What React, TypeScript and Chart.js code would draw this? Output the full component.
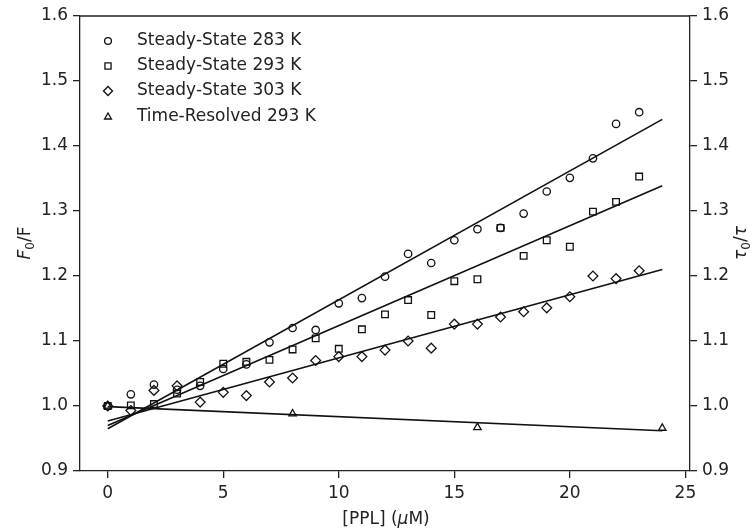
import React, { useEffect, useRef } from "react";
import { Chart, registerables } from "chart.js";

Chart.register(...registerables);

// ---- data ----
const ppl = [0, 1, 2, 3, 4, 5, 6, 7, 8, 9, 10, 11, 12, 13, 14, 15, 16, 17, 18, 19, 20, 21, 22, 23];
const ss283 = [1.0, 1.018, 1.033, 1.025, 1.031, 1.057, 1.064, 1.098, 1.12, 1.117, 1.158, 1.166, 1.199, 1.234, 1.22, 1.255, 1.272, 1.274, 1.296, 1.33, 1.351, 1.381, 1.434, 1.452];
const ss293 = [1.0, 1.001, 1.003, 1.019, 1.037, 1.065, 1.068, 1.071, 1.087, 1.104, 1.088, 1.118, 1.141, 1.163, 1.14, 1.192, 1.195, 1.274, 1.231, 1.255, 1.245, 1.299, 1.314, 1.353];
const ss303 = [1.0, 0.993, 1.024, 1.031, 1.006, 1.021, 1.016, 1.037, 1.043, 1.07, 1.076, 1.076, 1.086, 1.1, 1.089, 1.126, 1.126, 1.137, 1.145, 1.151, 1.168, 1.2, 1.196, 1.208];
const trPPL = [0, 8, 16, 24];
const tr293 = [1.0, 0.988, 0.967, 0.966];

// linear-fit lines (end points)
const fitX = [0, 24];
const fit283 = [0.965, 1.441];
const fit293 = [0.97, 1.339];
const fit303 = [0.977, 1.21];
const fitTR = [0.999, 0.962];

const xTicks = [0, 5, 10, 15, 20, 25];
const yTicks = [0.9, 1.0, 1.1, 1.2, 1.3, 1.4, 1.5, 1.6];
const legendLabels = ["Steady-State 283 K", "Steady-State 293 K", "Steady-State 303 K", "Time-Resolved 293 K"];
const markerStyles = ["circle", "rect", "rectRot", "triangle"];
const markerRadii = [3.7, 4.7, 4.9, 4.3];

const FONT = '"DejaVu Sans", sans-serif';
const INK = "#222";

function pts(xs: number[], ys: number[]) {
  return xs.map((x, i) => ({ x, y: ys[i] }));
}

function drawMarker(ctx: CanvasRenderingContext2D, style: string, x: number, y: number, r: number) {
  ctx.beginPath();
  if (style === "circle") {
    ctx.arc(x, y, r, 0, Math.PI * 2);
  } else if (style === "rect") {
    const s = r * Math.SQRT1_2;
    ctx.rect(x - s, y - s, 2 * s, 2 * s);
  } else if (style === "rectRot") {
    ctx.moveTo(x - r, y);
    ctx.lineTo(x, y - r);
    ctx.lineTo(x + r, y);
    ctx.lineTo(x, y + r);
    ctx.closePath();
  } else {
    ctx.moveTo(x, y - r);
    ctx.lineTo(x + 0.866 * r, y + 0.5 * r);
    ctx.lineTo(x - 0.866 * r, y + 0.5 * r);
    ctx.closePath();
  }
  ctx.stroke();
}

type Piece = { t: string; italic?: boolean; sub?: boolean };

function drawRich(ctx: CanvasRenderingContext2D, pieces: Piece[], size: number) {
  const fontOf = (p: Piece) => `${p.italic ? "italic " : ""}${p.sub ? Math.round(size * 0.7) : size}px ${FONT}`;
  let total = 0;
  const widths = pieces.map((p) => {
    ctx.font = fontOf(p);
    const w = ctx.measureText(p.t).width;
    total += w;
    return w;
  });
  let x = -total / 2;
  ctx.textAlign = "left";
  ctx.textBaseline = "middle";
  pieces.forEach((p, i) => {
    ctx.font = fontOf(p);
    ctx.fillText(p.t, x, p.sub ? size * 0.28 : 0);
    x += widths[i];
  });
}

const decor = {
  id: "decor",
  afterDraw(chart: any) {
    const { ctx, chartArea: a } = chart;
    ctx.save();
    // top spine
    ctx.strokeStyle = INK;
    ctx.lineWidth = 1.3;
    ctx.beginPath();
    ctx.moveTo(a.left, a.top);
    ctx.lineTo(a.right, a.top);
    ctx.stroke();

    // legend
    const rows = [41, 66, 91, 117];
    legendLabels.forEach((lab, i) => {
      ctx.strokeStyle = "#111";
      ctx.lineWidth = 1.3;
      drawMarker(ctx, markerStyles[i], 108, rows[i], markerRadii[i] * 0.92);
      ctx.fillStyle = INK;
      ctx.font = `17px ${FONT}`;
      ctx.textAlign = "left";
      ctx.textBaseline = "middle";
      ctx.fillText(lab, 137, rows[i]);
    });

    ctx.fillStyle = INK;
    // left axis title
    ctx.save();
    ctx.translate(26, 243);
    ctx.rotate(-Math.PI / 2);
    drawRich(ctx, [{ t: "F", italic: true }, { t: "0", sub: true }, { t: "/F" }], 17);
    ctx.restore();

    // right axis title
    ctx.save();
    ctx.translate(742, 243);
    ctx.rotate(-Math.PI / 2);
    drawRich(ctx, [{ t: "τ", italic: true }, { t: "0", sub: true }, { t: "/" }, { t: "τ", italic: true }], 17);
    ctx.restore();

    // x axis title
    ctx.save();
    ctx.translate(386, 520);
    drawRich(ctx, [{ t: "[PPL] (" }, { t: "μ", italic: true }, { t: "M)" }], 17);
    ctx.restore();

    ctx.restore();
  },
};

export default function App() {
  const ref = useRef<HTMLCanvasElement | null>(null);

  useEffect(() => {
    if (!ref.current) return;
    const pointDs = (data: any[], i: number) => ({
      data,
      showLine: false,
      pointStyle: markerStyles[i],
      pointRadius: markerRadii[i],
      pointBorderWidth: 1.3,
      pointBorderColor: "#111",
      pointBackgroundColor: "rgba(0,0,0,0)",
      order: 1,
    });
    const lineDs = (data: any[]) => ({
      data,
      showLine: true,
      borderColor: "#111",
      borderWidth: 1.6,
      pointRadius: 0,
      fill: false,
      order: 0,
    });

    const gridCfg = {
      display: true,
      drawOnChartArea: false,
      drawTicks: true,
      tickLength: 7,
      color: INK,
      lineWidth: 1.3,
    };
    const tickFont = { family: FONT, size: 17 };

    const chart = new Chart(ref.current, {
      type: "scatter",
      data: {
        datasets: [
          pointDs(pts(ppl, ss283), 0),
          pointDs(pts(ppl, ss293), 1),
          pointDs(pts(ppl, ss303), 2),
          pointDs(pts(trPPL, tr293), 3),
          lineDs(pts(fitX, fit283)),
          lineDs(pts(fitX, fit293)),
          lineDs(pts(fitX, fit303)),
          lineDs(pts(fitX, fitTR)),
        ] as any,
      },
      options: {
        animation: false,
        responsive: false,
        devicePixelRatio: 1,
        layout: { padding: { top: 16, left: 0, right: 0, bottom: 0 } },
        plugins: { legend: { display: false }, tooltip: { enabled: false } },
        scales: {
          x: {
            type: "linear",
            position: "bottom",
            min: -1.2,
            max: 25.2,
            grid: gridCfg,
            border: { color: INK, width: 1.3 },
            ticks: { color: INK, font: tickFont, padding: 5, maxRotation: 0, callback: (v: any) => String(v) },
            afterBuildTicks: (s: any) => {
              s.ticks = xTicks.map((value) => ({ value }));
            },
            afterFit: (s: any) => {
              s.height = 58;
            },
          },
          y: {
            type: "linear",
            position: "left",
            min: 0.9,
            max: 1.6,
            grid: gridCfg,
            border: { color: INK, width: 1.3 },
            ticks: { color: INK, font: tickFont, padding: 5, callback: (v: any) => Number(v).toFixed(1) },
            afterBuildTicks: (s: any) => {
              s.ticks = yTicks.map((value) => ({ value }));
            },
            afterFit: (s: any) => {
              s.width = 80;
            },
          },
          y2: {
            type: "linear",
            position: "right",
            min: 0.9,
            max: 1.6,
            grid: gridCfg,
            border: { color: INK, width: 1.3 },
            ticks: { color: INK, font: tickFont, padding: 5, callback: (v: any) => Number(v).toFixed(1) },
            afterBuildTicks: (s: any) => {
              s.ticks = yTicks.map((value) => ({ value }));
            },
            afterFit: (s: any) => {
              s.width = 62;
            },
          },
        },
      } as any,
      plugins: [decor],
    });
    return () => chart.destroy();
  }, []);

  return (
    <div style={{ position: "absolute", left: 0, top: 0, width: 752, height: 529, background: "#fff" }}>
      <canvas ref={ref} width={752} height={529} style={{ display: "block" }} />
    </div>
  );
}
